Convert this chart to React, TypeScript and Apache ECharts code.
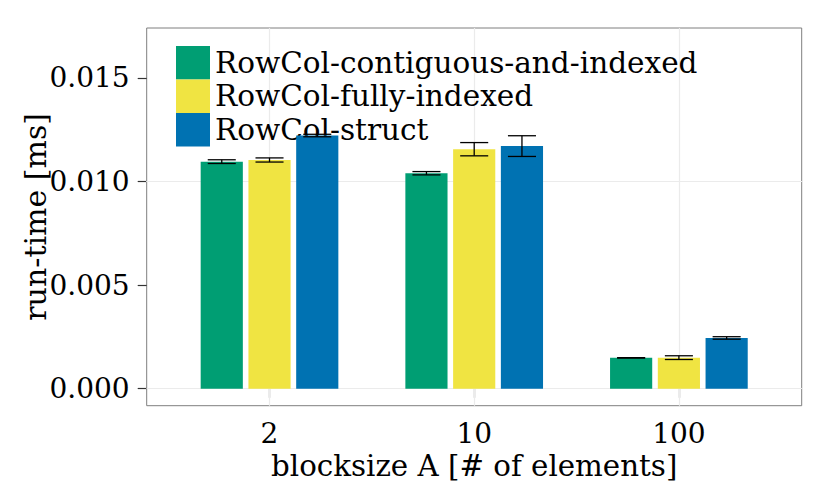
import React, { useEffect, useRef } from "react";
import * as echarts from "echarts";

const categories = ["2", "10", "100"];
const seriesNames = ["RowCol-contiguous-and-indexed", "RowCol-fully-indexed", "RowCol-struct"];
const seriesColors = ["#009E73", "#F0E442", "#0072B2"];
const meanContig = [0.01096, 0.0104, 0.00149];
const errContig = [0.00009, 0.00008, 0.00001];
const meanFully = [0.01104, 0.01156, 0.0015];
const errFully = [0.0001, 0.00032, 0.00009];
const meanStruct = [0.01222, 0.01171, 0.00245];
const errStruct = [0.00006, 0.0005, 0.00006];
const yTicks = [0, 0.005, 0.01, 0.015];
const yMinorTicks = [0.0025, 0.0075, 0.0125];
const xTicks = [1, 2, 3];

const means = [meanContig, meanFully, meanStruct];
const errs = [errContig, errFully, errStruct];

const FONT = "DejaVu Serif";
const DODGE = 0.2333;
const BAR_W = 0.206;
const CAP_W = 0.137;

export default function App() {
  const ref = useRef<HTMLDivElement>(null);
  useEffect(() => {
    if (!ref.current) return;
    const chart = echarts.init(ref.current, undefined, { renderer: "svg" });

    const barSeries: any[] = seriesNames.map((name, si) => ({
      type: "custom",
      name,
      z: 10,
      itemStyle: { color: seriesColors[si] },
      encode: { x: 0, y: 1 },
      data: categories.map((_, ci) => [ci + 1, means[si][ci], errs[si][ci]]),
      renderItem: (params: any, api: any) => {
        const x = api.value(0) + (si - 1) * DODGE;
        const m = api.value(1);
        const tl = api.coord([x - BAR_W / 2, m]);
        const br = api.coord([x + BAR_W / 2, 0]);
        return {
          type: "rect",
          shape: { x: tl[0], y: tl[1], width: br[0] - tl[0], height: br[1] - tl[1] },
          style: { fill: seriesColors[si] },
        };
      },
    }));

    const errSeries: any[] = seriesNames.map((name, si) => ({
      type: "custom",
      name: name + " error",
      z: 20,
      encode: { x: 0, y: 1 },
      data: categories.map((_, ci) => [ci + 1, means[si][ci], errs[si][ci]]),
      renderItem: (params: any, api: any) => {
        const x = api.value(0) + (si - 1) * DODGE;
        const m = api.value(1);
        const e = api.value(2);
        const hiL = api.coord([x - CAP_W / 2, m + e]);
        const hiR = api.coord([x + CAP_W / 2, m + e]);
        const loL = api.coord([x - CAP_W / 2, m - e]);
        const loR = api.coord([x + CAP_W / 2, m - e]);
        const hi = api.coord([x, m + e]);
        const lo = api.coord([x, m - e]);
        const st = { stroke: "#000", lineWidth: 1.3 };
        return {
          type: "group",
          children: [
            { type: "line", shape: { x1: hi[0], y1: hi[1], x2: lo[0], y2: lo[1] }, style: st },
            { type: "line", shape: { x1: hiL[0], y1: hiL[1], x2: hiR[0], y2: hiR[1] }, style: st },
            { type: "line", shape: { x1: loL[0], y1: loL[1], x2: loR[0], y2: loR[1] }, style: st },
          ],
        };
      },
    }));

    const gridSeries = {
      type: "line",
      name: "grid",
      data: [],
      silent: true,
      z: 1,
      markLine: {
        silent: true,
        symbol: "none",
        z: 1,
        animation: false,
        label: { show: false },
        data: [
          ...yMinorTicks.map((v) => ({ yAxis: v, lineStyle: { color: "#f4f4f4", width: 1, type: "solid" } })),
          ...yTicks.map((v) => ({ yAxis: v, lineStyle: { color: "#ebebeb", width: 1.2, type: "solid" } })),
          ...xTicks.map((v) => ({ xAxis: v, lineStyle: { color: "#ebebeb", width: 1.2, type: "solid" } })),
        ],
      },
    };

    chart.setOption({
      animation: false,
      backgroundColor: "#ffffff",
      textStyle: { fontFamily: FONT },
      grid: {
        left: 146.7,
        right: 28.3,
        top: 28,
        bottom: 92.3,
        containLabel: false,
        outerBoundsMode: "none",
        show: true,
        borderColor: "#7f7f7f",
        borderWidth: 1,
        backgroundColor: "transparent",
      },
      legend: {
        data: seriesNames,
        orient: "vertical",
        left: 176,
        top: 46,
        itemWidth: 34,
        itemHeight: 33.5,
        itemGap: 0,
        icon: "rect",
        padding: 0,
        textStyle: { fontFamily: FONT, fontSize: 29.5, color: "#000", lineHeight: 33.5 },
      },
      xAxis: {
        type: "value",
        min: 0.4,
        max: 3.6,
        name: "blocksize A [# of elements]",
        nameLocation: "middle",
        nameGap: 46,
        nameMoveOverlap: false,
        nameTextStyle: { fontFamily: FONT, fontSize: 29.3, color: "#000" },
        axisLine: { show: false },
        splitLine: { show: false },
        axisTick: { show: true, customValues: xTicks, length: 9, lineStyle: { color: "#333", width: 1.2 } },
        axisLabel: {
          customValues: xTicks,
          formatter: (v: number) => categories[Math.round(v) - 1] ?? "",
          fontFamily: FONT,
          fontSize: 28,
          color: "#000",
          margin: 14,
        },
      },
      yAxis: {
        type: "value",
        min: -0.00082,
        max: 0.01741,
        name: "run-time [ms]",
        nameLocation: "middle",
        nameRotate: 90,
        nameGap: 96,
        nameMoveOverlap: false,
        nameTextStyle: { fontFamily: FONT, fontSize: 30, color: "#000" },
        axisLine: { show: false },
        splitLine: { show: false },
        axisTick: { show: true, customValues: yTicks, length: 9, lineStyle: { color: "#333", width: 1.2 } },
        axisLabel: {
          customValues: yTicks,
          formatter: (v: number) => v.toFixed(3),
          fontFamily: FONT,
          fontSize: 28,
          color: "#000",
          margin: 17,
        },
      },
      series: [gridSeries, ...barSeries, ...errSeries],
    });

    return () => chart.dispose();
  }, []);

  return (
    <div
      ref={ref}
      style={{ position: "fixed", left: 0, top: 0, width: 830, height: 498, background: "#fff" }}
    />
  );
}
